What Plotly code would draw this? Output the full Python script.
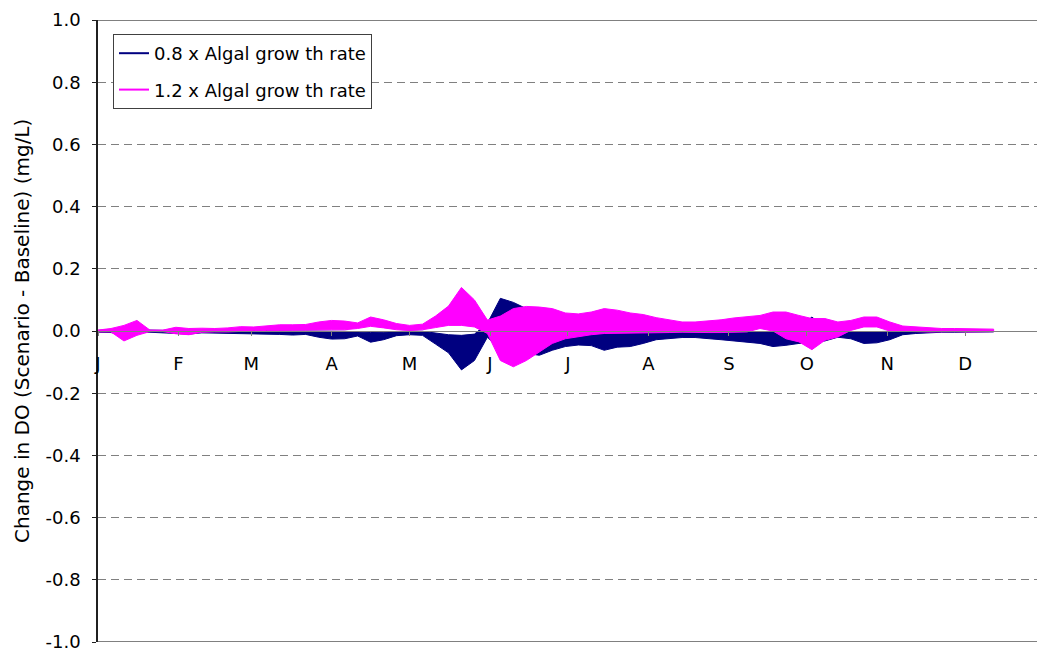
import pandas as pd
import plotly.graph_objects as go

# ---------------- data ----------------
# envelope of each series, sampled every 5 days from 1 Jan
sample_day = list(range(0, 350, 5))

pink_hi = [0.003, 0.008, 0.018, 0.034, 0.003, 0.003, 0.012, 0.008, 0.009, 0.008,
           0.010, 0.014, 0.013, 0.016, 0.020, 0.020, 0.021, 0.029, 0.034, 0.032,
           0.026, 0.045, 0.036, 0.024, 0.018, 0.022, 0.048, 0.080, 0.140, 0.100,
           0.035, 0.048, 0.072, 0.079, 0.077, 0.072, 0.058, 0.055, 0.061, 0.072,
           0.067, 0.058, 0.053, 0.043, 0.036, 0.029, 0.029, 0.032, 0.036, 0.042,
           0.045, 0.050, 0.061, 0.061, 0.050, 0.040, 0.040, 0.029, 0.034, 0.045,
           0.045, 0.029, 0.016, 0.013, 0.010, 0.008, 0.008, 0.008, 0.007, 0.006]
pink_lo = [-0.003, -0.003, -0.032, -0.014, -0.002, -0.002, -0.009, -0.012, -0.004, -0.003,
           -0.003, -0.002, 0.000, 0.002, 0.002, 0.002, 0.002, 0.003, 0.004, 0.004,
           0.008, 0.015, 0.010, 0.004, 0.002, 0.004, 0.011, 0.018, 0.018, 0.013,
           -0.008, -0.095, -0.115, -0.095, -0.068, -0.040, -0.025, -0.018, -0.012, -0.008,
           -0.008, -0.008, -0.007, -0.006, -0.005, -0.004, -0.004, -0.005, -0.005, -0.005,
           -0.003, 0.008, 0.000, -0.025, -0.035, -0.060, -0.030, -0.019, 0.002, 0.013,
           0.013, 0.000, -0.002, -0.002, -0.003, -0.003, -0.002, -0.003, -0.003, -0.002]
blue_hi = [0.002, 0.004, 0.006, 0.004, 0.002, 0.002, 0.004, 0.003, 0.002, 0.002,
           0.002, 0.002, 0.001, 0.002, 0.001, 0.000, 0.000, 0.000, -0.001, -0.001,
           -0.003, -0.005, -0.004, -0.001, 0.000, -0.001, -0.006, -0.012, -0.014, -0.010,
           0.025, 0.105, 0.092, 0.072, 0.055, 0.030, 0.010, 0.005, 0.003, 0.002,
           0.002, 0.001, 0.001, 0.000, 0.000, 0.000, 0.000, 0.000, 0.000, 0.000,
           -0.001, -0.003, -0.002, 0.000, 0.010, 0.045, 0.010, 0.003, -0.002, -0.003,
           -0.003, -0.001, 0.000, 0.000, 0.000, 0.000, 0.000, 0.000, 0.000, 0.000]
blue_lo = [-0.004, -0.005, -0.012, -0.006, -0.004, -0.004, -0.008, -0.010, -0.006, -0.006,
           -0.006, -0.007, -0.008, -0.010, -0.011, -0.013, -0.011, -0.020, -0.026, -0.025,
           -0.016, -0.036, -0.028, -0.015, -0.012, -0.014, -0.042, -0.070, -0.125, -0.095,
           -0.020, -0.060, -0.065, -0.072, -0.078, -0.062, -0.050, -0.045, -0.047, -0.062,
           -0.052, -0.050, -0.040, -0.028, -0.025, -0.021, -0.021, -0.025, -0.028, -0.032,
           -0.035, -0.040, -0.050, -0.046, -0.040, -0.035, -0.032, -0.020, -0.025, -0.040,
           -0.038, -0.028, -0.012, -0.008, -0.005, -0.004, -0.004, -0.004, -0.004, -0.003]

series_names = ["0.8 x Algal grow th rate", "1.2 x Algal grow th rate"]
month_letters = ["J", "F", "M", "A", "M", "J", "J", "A", "S", "O", "N", "D"]
y_ticks = [-1.0, -0.8, -0.6, -0.4, -0.2, 0.0, 0.2, 0.4, 0.6, 0.8, 1.0]
y_title = "Change in DO (Scenario - Baseline) (mg/L)"

YEAR = 2005
start = pd.Timestamp(f"{YEAR}-01-01")
dates = [start + pd.Timedelta(days=d) for d in sample_day]
month_starts = [pd.Timestamp(f"{YEAR}-{m:02d}-01") for m in range(1, 13)]

BLUE = "#000080"
PINK = "#FF00FF"
FONT = "DejaVu Sans"

fig = go.Figure()


def band(hi, lo, color):
    xs = dates + dates[::-1]
    ys = hi + lo[::-1]
    return go.Scatter(x=xs, y=ys, mode="lines", fill="toself", fillcolor=color,
                      line=dict(color=color, width=1), showlegend=False,
                      hoverinfo="skip")


fig.add_trace(band(blue_hi, blue_lo, BLUE))
fig.add_trace(band(pink_hi, pink_lo, PINK))

# legend entries
for name, color, grp in [(series_names[0], BLUE, "a"), (series_names[1], PINK, "b")]:
    fig.add_trace(go.Scatter(x=[None], y=[None], mode="lines", name=name,
                             line=dict(color=color, width=2), legendgroup=grp))

x_end = start + pd.Timedelta(days=361.7)

fig.update_layout(
    width=1037, height=651,
    margin=dict(l=98, r=0, t=20, b=9),
    paper_bgcolor="white", plot_bgcolor="white",
    font=dict(family=FONT, size=18, color="black"),
    showlegend=True,
    legend=dict(x=0.016, y=0.9775, xanchor="left", yanchor="top",
                bordercolor="#404040", borderwidth=1, bgcolor="white",
                font=dict(family=FONT, size=18, color="black"),
                tracegroupgap=10),
    xaxis=dict(type="date", range=[start, x_end], anchor="free", position=0.5,
               showgrid=False, zeroline=False, showline=True,
               linecolor="#808080", linewidth=1,
               ticks="outside", ticklen=4, tickcolor="#808080",
               tickvals=month_starts, ticktext=month_letters,
               ticklabelstandoff=12, ticklabeloverflow="allow",
               tickfont=dict(family=FONT, size=18, color="black")),
    yaxis=dict(range=[-1, 1], tickvals=y_ticks,
               ticktext=[f"{v:.1f}" for v in y_ticks],
               showgrid=True, gridcolor="#808080", gridwidth=1, griddash="8px,5px",
               zeroline=False, showline=True, linecolor="#202020", linewidth=1.5,
               ticks="outside", ticklen=4, tickcolor="#202020",
               ticklabelstandoff=8, ticklabeloverflow="allow",
               tickfont=dict(family=FONT, size=18, color="black")),
    shapes=[
        dict(type="line", xref="paper", yref="y", x0=0, x1=1, y0=1, y1=1,
             line=dict(color="#808080", width=2)),
        dict(type="line", xref="paper", yref="y", x0=0, x1=1, y0=-1, y1=-1,
             line=dict(color="#808080", width=2)),
    ],
    annotations=[
        dict(text=y_title, xref="paper", yref="paper", x=(22 - 98) / 939, y=0.5,
             xanchor="center", yanchor="middle", textangle=-90, showarrow=False,
             font=dict(family=FONT, size=20, color="black")),
    ],
)

fig.write_html(
    "out.html",
    config={"displayModeBar": False},
    post_script="document.body.style.margin='0';document.body.style.overflow='hidden';",
)
